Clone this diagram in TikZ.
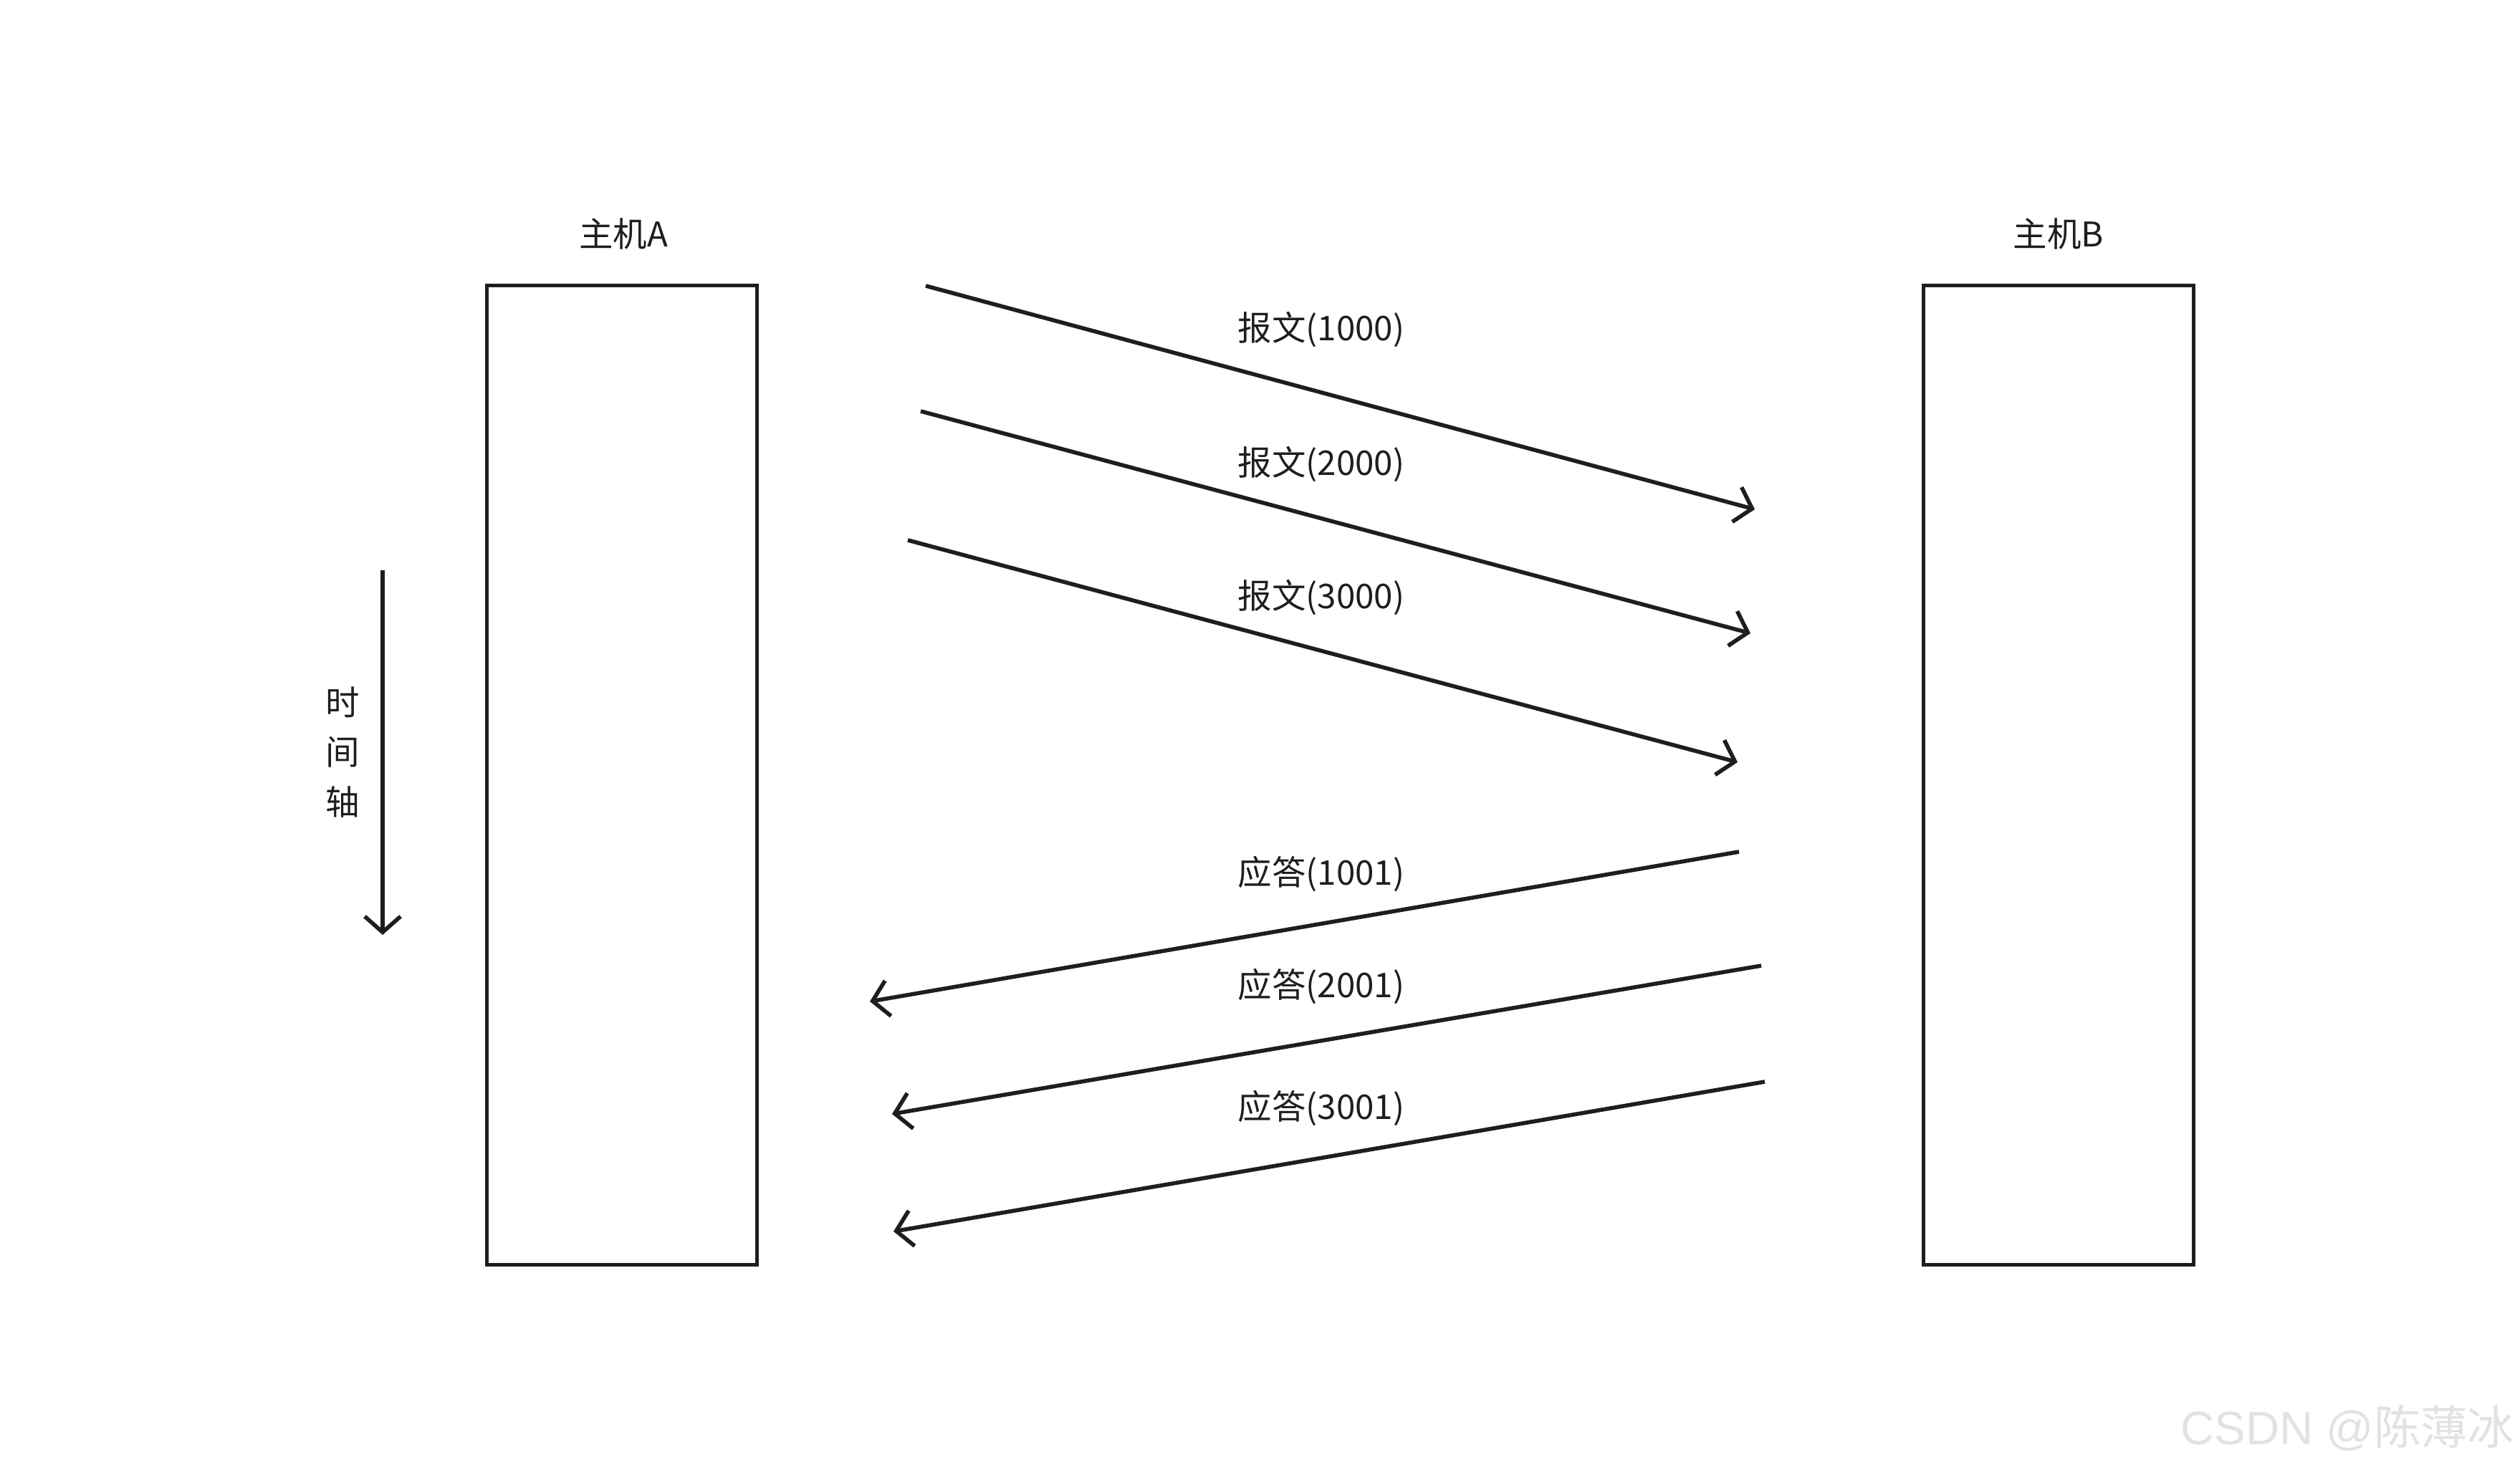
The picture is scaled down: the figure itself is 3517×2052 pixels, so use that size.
\documentclass[tikz,border=0pt]{standalone}
\usepackage{fontspec}
\usepackage{xcolor}
\usepackage{tikz}
\usetikzlibrary{arrows.meta,positioning}
\newfontfamily\cjk{Noto Sans CJK SC}
\newfontfamily\wmfont{Liberation Sans}
\definecolor{ink}{HTML}{1E1E1E}
\definecolor{wmgray}{HTML}{E2E2E2}

\begin{document}
\begin{tikzpicture}[
  x=0.01cm, y=-0.01cm,
  host/.style={rectangle, draw=ink, line width=1.6pt, minimum width=3.77cm, minimum height=13.66cm, inner sep=0pt},
  msg/.style={draw=ink, line width=1.6pt, -{Straight Barb[length=2.2mm,width=5mm]}},
  lbl/.style={font=\cjk\fontsize{13.5}{19.8}\selectfont, text=ink, inner sep=0pt, align=center}
]
  \useasboundingbox (0,0) rectangle (3517,2052);

  % hosts
  \node[host] (HostA) at (868,1082) {};
  \node[host] (HostB) at (2873,1082) {};
  \node[lbl] (HostALbl) at (870,326) {主机A};
  \node[lbl] (HostBLbl) at (2873,326) {主机B};

  % time axis
  \coordinate (TimeTop) at (534,796);
  \coordinate (TimeEnd) at (534,1305);
  \draw[msg] (TimeTop) -- (TimeEnd);
  \node[lbl] (TimeLbl) at (478,1050) {时\\间\\轴};

  % segments A -> B
  \coordinate (Seg1S) at (1292,399);  \coordinate (Seg1E) at (2449,711);
  \coordinate (Seg2S) at (1285,574);  \coordinate (Seg2E) at (2443,884);
  \coordinate (Seg3S) at (1267,754);  \coordinate (Seg3E) at (2425,1064);
  \draw[msg] (Seg1S) -- (Seg1E);
  \draw[msg] (Seg2S) -- (Seg2E);
  \draw[msg] (Seg3S) -- (Seg3E);
  \node[lbl] (Seg1Lbl) at (1844,460) {报文(1000)};
  \node[lbl] (Seg2Lbl) at (1844,648) {报文(2000)};
  \node[lbl] (Seg3Lbl) at (1844,834) {报文(3000)};

  % acks B -> A
  \coordinate (Ack1S) at (2427,1189); \coordinate (Ack1E) at (1214,1398);
  \coordinate (Ack2S) at (2458,1348); \coordinate (Ack2E) at (1245,1555);
  \coordinate (Ack3S) at (2463,1510); \coordinate (Ack3E) at (1247,1719);
  \draw[msg] (Ack1S) -- (Ack1E);
  \draw[msg] (Ack2S) -- (Ack2E);
  \draw[msg] (Ack3S) -- (Ack3E);
  \node[lbl] (Ack1Lbl) at (1844,1220) {应答(1001)};
  \node[lbl] (Ack2Lbl) at (1844,1377) {应答(2001)};
  \node[lbl] (Ack3Lbl) at (1844,1547) {应答(3001)};

  % watermark
  \node[anchor=east, inner sep=0pt, text=wmgray, font=\fontsize{18.6}{22}\selectfont] (Mark) at (3510,1993) {\wmfont CSDN @\cjk 陈薄冰};
\end{tikzpicture}
\end{document}
